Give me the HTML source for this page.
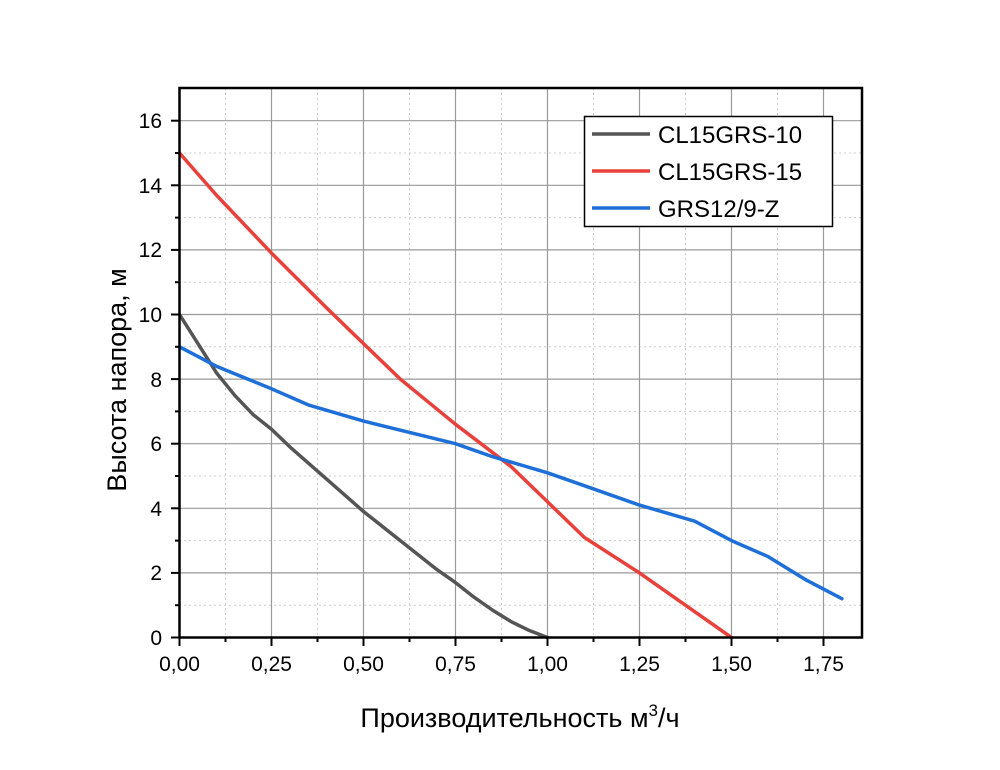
<!DOCTYPE html><html><head><meta charset="utf-8"><style>body{margin:0;background:#fff}svg{font-family:"Liberation Sans",sans-serif}</style></head><body>
<svg width="1000" height="765" viewBox="0 0 1000 765" xmlns="http://www.w3.org/2000/svg">
<g stroke="#ccc" stroke-width="1" stroke-dasharray="2,3">
<line x1="225.5" y1="88" x2="225.5" y2="637"/><line x1="317.5" y1="88" x2="317.5" y2="637"/><line x1="409.5" y1="88" x2="409.5" y2="637"/><line x1="501.5" y1="88" x2="501.5" y2="637"/><line x1="593.5" y1="88" x2="593.5" y2="637"/><line x1="685.5" y1="88" x2="685.5" y2="637"/><line x1="777.5" y1="88" x2="777.5" y2="637"/>
<line x1="179" y1="605.2" x2="862" y2="605.2"/><line x1="179" y1="540.6" x2="862" y2="540.6"/><line x1="179" y1="476" x2="862" y2="476"/><line x1="179" y1="411.4" x2="862" y2="411.4"/><line x1="179" y1="346.8" x2="862" y2="346.8"/><line x1="179" y1="282.2" x2="862" y2="282.2"/><line x1="179" y1="217.6" x2="862" y2="217.6"/><line x1="179" y1="153" x2="862" y2="153"/>
</g>
<g stroke="#999" stroke-width="1.2">
<line x1="271.5" y1="88" x2="271.5" y2="637"/><line x1="363.5" y1="88" x2="363.5" y2="637"/><line x1="455.5" y1="88" x2="455.5" y2="637"/><line x1="547.5" y1="88" x2="547.5" y2="637"/><line x1="639.5" y1="88" x2="639.5" y2="637"/><line x1="731.5" y1="88" x2="731.5" y2="637"/><line x1="823.5" y1="88" x2="823.5" y2="637"/>
<line x1="179" y1="572.9" x2="862" y2="572.9"/><line x1="179" y1="508.3" x2="862" y2="508.3"/><line x1="179" y1="443.7" x2="862" y2="443.7"/><line x1="179" y1="379.1" x2="862" y2="379.1"/><line x1="179" y1="314.5" x2="862" y2="314.5"/><line x1="179" y1="249.9" x2="862" y2="249.9"/><line x1="179" y1="185.3" x2="862" y2="185.3"/><line x1="179" y1="120.7" x2="862" y2="120.7"/>
</g>
<g fill="none" stroke-width="3.5" stroke-linejoin="round" stroke-linecap="round">
<polyline stroke="#555" points="179.5,314.5 197.9,343.6 216.3,372.6 234.7,395.3 253.1,414.6 271.5,429.2 289.9,446.9 326.7,479.2 363.5,511.5 400.3,540.6 437.1,569.7 455.5,582.6 473.9,597.1 492.3,610.0 510.7,621.4 529.1,630.4 547.5,637.5"/>
<polyline stroke="#e8403a" points="179.5,153 216.3,195 271.5,253.1 326.7,308 363.5,343.6 400.3,379.1 455.5,424.3 510.7,466.3 547.5,501.8 584.3,537.4 639.5,572.9 694.7,611.7 731.5,637.5"/>
<polyline stroke="#1f6fd8" points="179.5,346.8 216.3,366.2 271.5,388.8 308.3,404.9 363.5,421.1 455.5,443.7 492.3,456.6 547.5,472.8 584.3,485.7 639.5,505.1 694.7,521.2 731.5,540.6 768.3,556.7 805.1,579.4 841.9,598.7"/>
</g>
<rect x="179.5" y="88" width="682.5" height="549.5" fill="none" stroke="#000" stroke-width="2.5"/>
<g stroke="#000" stroke-width="2">
<line x1="179.5" y1="637.5" x2="179.5" y2="646"/><line x1="271.5" y1="637.5" x2="271.5" y2="646"/><line x1="363.5" y1="637.5" x2="363.5" y2="646"/><line x1="455.5" y1="637.5" x2="455.5" y2="646"/><line x1="547.5" y1="637.5" x2="547.5" y2="646"/><line x1="639.5" y1="637.5" x2="639.5" y2="646"/><line x1="731.5" y1="637.5" x2="731.5" y2="646"/><line x1="823.5" y1="637.5" x2="823.5" y2="646"/>
<line x1="225.5" y1="637.5" x2="225.5" y2="642"/><line x1="317.5" y1="637.5" x2="317.5" y2="642"/><line x1="409.5" y1="637.5" x2="409.5" y2="642"/><line x1="501.5" y1="637.5" x2="501.5" y2="642"/><line x1="593.5" y1="637.5" x2="593.5" y2="642"/><line x1="685.5" y1="637.5" x2="685.5" y2="642"/><line x1="777.5" y1="637.5" x2="777.5" y2="642"/>
<line x1="171" y1="637.5" x2="179.5" y2="637.5"/><line x1="171" y1="572.9" x2="179.5" y2="572.9"/><line x1="171" y1="508.3" x2="179.5" y2="508.3"/><line x1="171" y1="443.7" x2="179.5" y2="443.7"/><line x1="171" y1="379.1" x2="179.5" y2="379.1"/><line x1="171" y1="314.5" x2="179.5" y2="314.5"/><line x1="171" y1="249.9" x2="179.5" y2="249.9"/><line x1="171" y1="185.3" x2="179.5" y2="185.3"/><line x1="171" y1="120.7" x2="179.5" y2="120.7"/>
<line x1="175" y1="605.2" x2="179.5" y2="605.2"/><line x1="175" y1="540.6" x2="179.5" y2="540.6"/><line x1="175" y1="476" x2="179.5" y2="476"/><line x1="175" y1="411.4" x2="179.5" y2="411.4"/><line x1="175" y1="346.8" x2="179.5" y2="346.8"/><line x1="175" y1="282.2" x2="179.5" y2="282.2"/><line x1="175" y1="217.6" x2="179.5" y2="217.6"/><line x1="175" y1="153" x2="179.5" y2="153"/>
</g>
<g font-size="21" text-anchor="middle" fill="#000">
<text x="179.5" y="671">0,00</text><text x="271.5" y="671">0,25</text><text x="363.5" y="671">0,50</text><text x="455.5" y="671">0,75</text><text x="547.5" y="671">1,00</text><text x="639.5" y="671">1,25</text><text x="731.5" y="671">1,50</text><text x="823.5" y="671">1,75</text>
</g>
<g font-size="21" text-anchor="end" fill="#000">
<text x="162" y="645">0</text><text x="162" y="580">2</text><text x="162" y="516">4</text><text x="162" y="451">6</text><text x="162" y="387">8</text><text x="162" y="322">10</text><text x="162" y="257">12</text><text x="162" y="193">14</text><text x="162" y="128">16</text>
</g>
<text x="520" y="727" font-size="27" text-anchor="middle">Производительность м<tspan font-size="17" dy="-11">3</tspan><tspan dy="11">/ч</tspan></text>
<text transform="translate(126,380) rotate(-90)" font-size="27" text-anchor="middle">Высота напора, м</text>
<rect x="584.5" y="116.5" width="248" height="110" fill="#fff" stroke="#000" stroke-width="1.5"/>
<g stroke-width="3.5"><line x1="592" y1="134" x2="650" y2="134" stroke="#555"/><line x1="592" y1="171" x2="650" y2="171" stroke="#e8403a"/><line x1="592" y1="208" x2="650" y2="208" stroke="#1f6fd8"/></g>
<g font-size="24"><text x="658" y="143">CL15GRS-10</text><text x="658" y="180">CL15GRS-15</text><text x="658" y="217">GRS12/9-Z</text></g>
</svg></body></html>
